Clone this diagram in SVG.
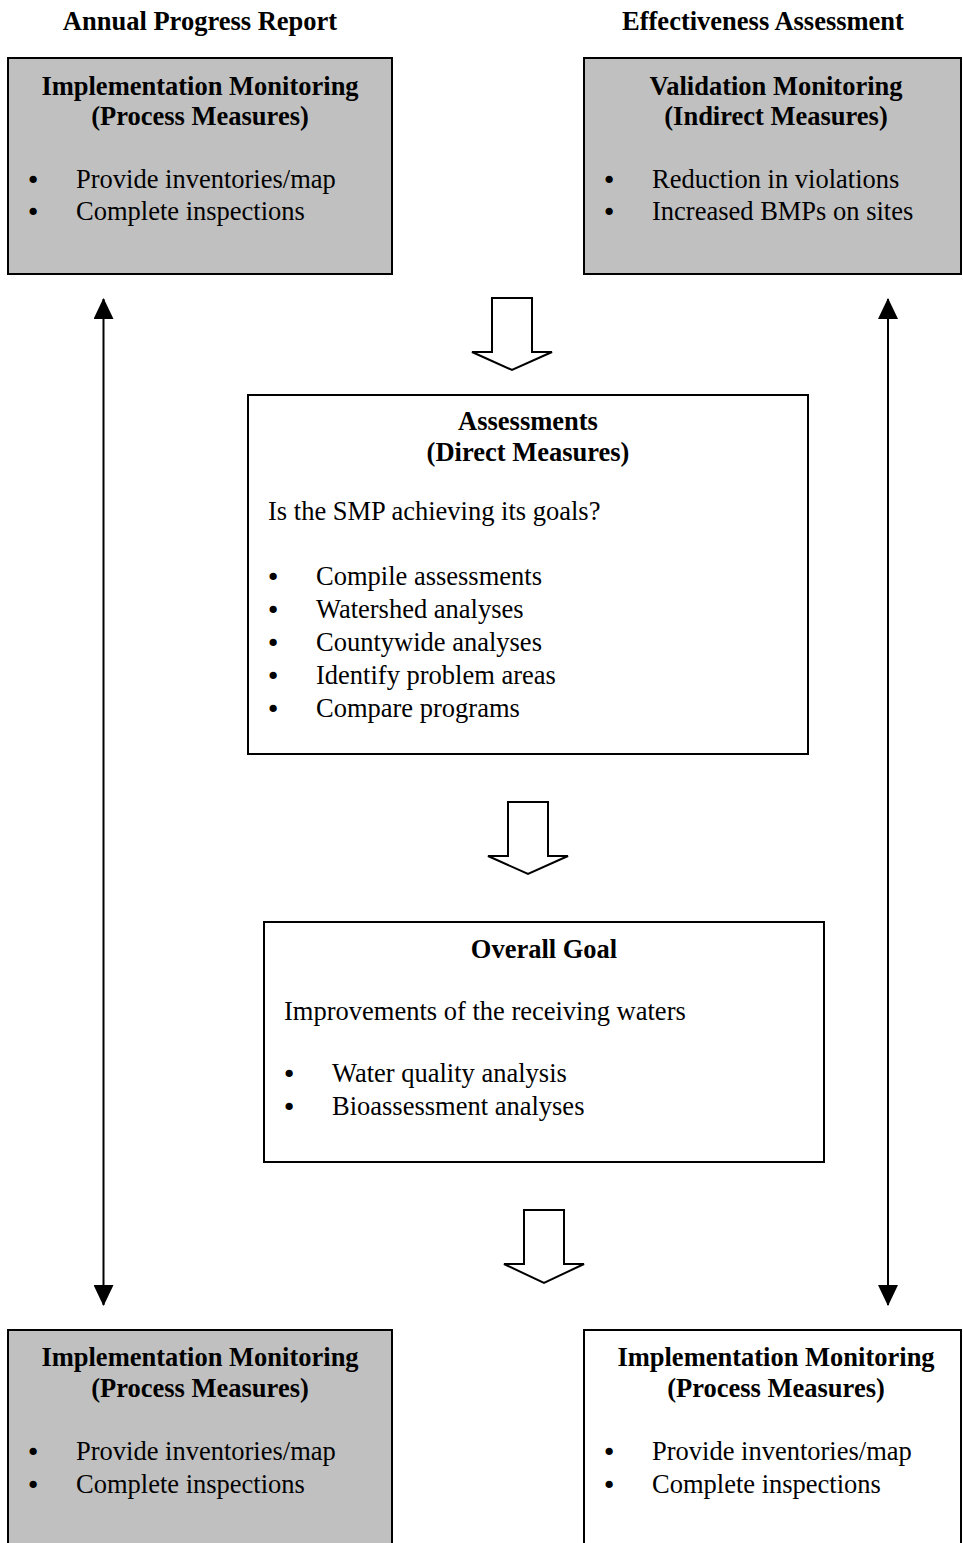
<svg xmlns="http://www.w3.org/2000/svg" width="963" height="1543" viewBox="0 0 963 1543">
<defs>
<style>
text{font-family:"Liberation Serif","Times New Roman",serif;font-size:26.5px;fill:#000}
.b{font-weight:bold}
.c{text-anchor:middle}
.bl{font-family:"DejaVu Sans",sans-serif;font-size:25px;text-anchor:middle}
.box{stroke:#000;stroke-width:2}
.gray{fill:#c0c0c0}
.white{fill:#fff}
.blk{fill:#fff;stroke:#000;stroke-width:2;stroke-linejoin:miter}
.vl{stroke:#000;stroke-width:2;fill:none}
</style>
<marker id="ah" viewBox="0 0 21 20" refX="20" refY="10" markerWidth="21" markerHeight="20" markerUnits="userSpaceOnUse" orient="auto-start-reverse">
<path d="M0,0 L21,10 L0,20 Z" fill="#000"/>
</marker>
</defs>
<rect width="963" height="1543" fill="#fff"/>

<g id="headers">
<text class="b c" x="200" y="30">Annual Progress Report</text>
<text class="b c" x="763" y="30">Effectiveness Assessment</text>
</g>

<g id="node-impl-top">
<rect class="box gray" x="8" y="58" width="384" height="216"/>
<text class="b c" x="200" y="95">Implementation Monitoring</text>
<text class="b c" x="200" y="125">(Process Measures)</text>
<text class="bl" x="33" y="189">•</text>
<text x="76" y="188">Provide inventories/map</text>
<text class="bl" x="33" y="221">•</text>
<text x="76" y="220">Complete inspections</text>
</g>

<g id="node-validation">
<rect class="box gray" x="584" y="58" width="377" height="216"/>
<text class="b c" x="776" y="95">Validation Monitoring</text>
<text class="b c" x="776" y="125">(Indirect Measures)</text>
<text class="bl" x="609" y="189">•</text>
<text x="652" y="188">Reduction in violations</text>
<text class="bl" x="609" y="221">•</text>
<text x="652" y="220">Increased BMPs on sites</text>
</g>

<g id="node-assessments">
<rect class="box white" x="248" y="395" width="560" height="359"/>
<text class="b c" x="528" y="430">Assessments</text>
<text class="b c" x="528" y="461">(Direct Measures)</text>
<text x="268" y="520">Is the SMP achieving its goals?</text>
<text class="bl" x="273" y="586">•</text>
<text x="316" y="585">Compile assessments</text>
<text class="bl" x="273" y="619">•</text>
<text x="316" y="618">Watershed analyses</text>
<text class="bl" x="273" y="652">•</text>
<text x="316" y="651">Countywide analyses</text>
<text class="bl" x="273" y="685">•</text>
<text x="316" y="684">Identify problem areas</text>
<text class="bl" x="273" y="718">•</text>
<text x="316" y="717">Compare programs</text>
</g>

<g id="node-overall-goal">
<rect class="box white" x="264" y="922" width="560" height="240"/>
<text class="b c" x="544" y="958">Overall Goal</text>
<text x="284" y="1020">Improvements of the receiving waters</text>
<text class="bl" x="289" y="1083">•</text>
<text x="332" y="1082">Water quality analysis</text>
<text class="bl" x="289" y="1116">•</text>
<text x="332" y="1115">Bioassessment analyses</text>
</g>

<g id="node-impl-bottom-left">
<rect class="box gray" x="8" y="1330" width="384" height="230"/>
<text class="b c" x="200" y="1366">Implementation Monitoring</text>
<text class="b c" x="200" y="1397">(Process Measures)</text>
<text class="bl" x="33" y="1461">•</text>
<text x="76" y="1460">Provide inventories/map</text>
<text class="bl" x="33" y="1494">•</text>
<text x="76" y="1493">Complete inspections</text>
</g>

<g id="node-impl-bottom-right">
<rect class="box white" x="584" y="1330" width="377" height="230"/>
<text class="b c" x="776" y="1366">Implementation Monitoring</text>
<text class="b c" x="776" y="1397">(Process Measures)</text>
<text class="bl" x="609" y="1461">•</text>
<text x="652" y="1460">Provide inventories/map</text>
<text class="bl" x="609" y="1494">•</text>
<text x="652" y="1493">Complete inspections</text>
</g>

<g id="connectors">
<line class="vl" x1="103.5" y1="299" x2="103.5" y2="1305" marker-start="url(#ah)" marker-end="url(#ah)"/>
<line class="vl" x1="888" y1="299" x2="888" y2="1305" marker-start="url(#ah)" marker-end="url(#ah)"/>
<polygon class="blk" points="492,298 532,298 532,352 552,352 512,370 472,352 492,352"/>
<polygon class="blk" points="508,802 548,802 548,856 568,856 528,874 488,856 508,856"/>
<polygon class="blk" points="524,1210 564,1210 564,1264 584,1264 544,1283 504,1264 524,1264"/>
</g>
</svg>
